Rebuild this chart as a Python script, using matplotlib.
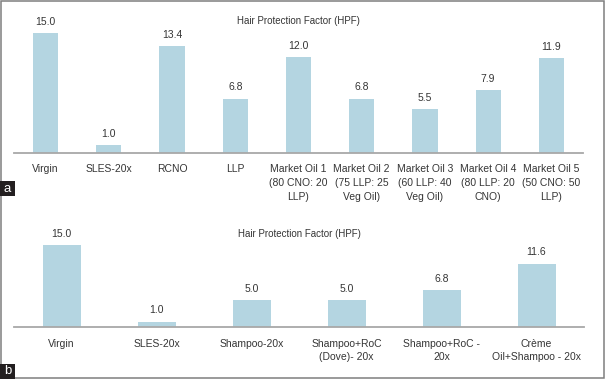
import matplotlib
matplotlib.use("Agg")
import matplotlib.pyplot as plt
from matplotlib.patches import Rectangle

plt.rcParams['font.family'] = ['Liberation Sans', 'DejaVu Sans']

# Panel a data
cats_a = ["Virgin", "SLES-20x", "RCNO", "LLP",
          "Market Oil 1\n(80 CNO: 20\nLLP)", "Market Oil 2\n(75 LLP: 25\nVeg Oil)",
          "Market Oil 3\n(60 LLP: 40\nVeg Oil)", "Market Oil 4\n(80 LLP: 20\nCNO)",
          "Market Oil 5\n(50 CNO: 50\nLLP)"]
vals_a = [15.0, 1.0, 13.4, 6.8, 12.0, 6.8, 5.5, 7.9, 11.9]

# Panel b data
cats_b = ["Virgin", "SLES-20x", "Shampoo-20x", "Shampoo+RoC\n(Dove)- 20x",
          "Shampoo+RoC -\n20x", "Crème\nOil+Shampoo - 20x"]
vals_b = [15.0, 1.0, 5.0, 5.0, 6.8, 11.6]

title = "Hair Protection Factor (HPF)"

W, H = 605, 379
fig = plt.figure(figsize=(W / 100, H / 100), dpi=100)

bar_color = "#b4d5e1"
text_color = "#353535"
axis_color = "#a8a8a8"

def px_axes(left, right, top, bottom):
    return fig.add_axes([left / W, 1 - bottom / H, (right - left) / W, (bottom - top) / H])

def draw(ax, cats, vals, ymax, title_y_px, base_px, top_px, pad, ls):
    x = list(range(len(cats)))
    ax.bar(x, vals, width=0.40, color=bar_color, edgecolor="none")
    ax.set_xlim(-0.5, len(cats) - 0.5)
    ax.set_ylim(0, ymax)
    for s in ["top", "right", "left"]:
        ax.spines[s].set_visible(False)
    ax.spines["bottom"].set_color(axis_color)
    ax.spines["bottom"].set_linewidth(1.3)
    ax.set_yticks([])
    ax.set_xticks(x)
    ax.set_xticklabels(cats, fontsize=7.5, color=text_color, linespacing=ls)
    ax.tick_params(axis="x", length=0, pad=pad)
    for xi, v in zip(x, vals):
        ax.annotate(f"{v:.1f}", (xi, v), xytext=(0, 8.0), textcoords="offset points",
                    ha="center", va="center", fontsize=7.5, color=text_color)
    frac = (base_px - title_y_px) / (base_px - top_px)
    ax.text(0.5, frac, title, transform=ax.transAxes, ha="center", va="center",
            fontsize=7, color=text_color)
    ax.patch.set_alpha(0)

# Panel a
base_a, scale_a = 152.7, 7.96
ymax_a = 18.2
top_a = base_a - ymax_a * scale_a
ax_a = px_axes(14, 583, top_a, base_a)
draw(ax_a, cats_a, vals_a, ymax_a, 21, base_a, top_a, 8.2, 1.5)

# Panel b
base_b, scale_b = 327, 5.47
ymax_b = 18.2
top_b = base_b - ymax_b * scale_b
ax_b = px_axes(14, 584, top_b, base_b)
draw(ax_b, cats_b, vals_b, ymax_b, 234, base_b, top_b, 8.8, 1.4)

# Outer border
fig.patches.append(Rectangle((0.75 / W, 0.75 / H), 1 - 1.5 / W, 1 - 1.5 / H,
                             transform=fig.transFigure, fill=False,
                             edgecolor="#7f7f7f", linewidth=1.1))

# Panel letter boxes
def letter(lbl, top_px, bot_px):
    fig.patches.append(Rectangle((0, 1 - bot_px / H), 15 / W, (bot_px - top_px) / H,
                                 transform=fig.transFigure, facecolor="#231f20",
                                 edgecolor="none"))
    fig.text(7.5 / W, 1 - (top_px + bot_px) / 2 / H, lbl, ha="center", va="center",
             color="white", fontsize=9.5)

letter("a", 181, 196)
letter("b", 364, 379)

fig.savefig("out.png", dpi=100)
